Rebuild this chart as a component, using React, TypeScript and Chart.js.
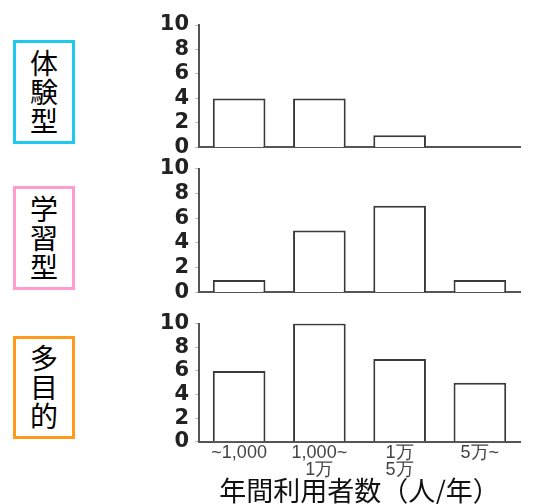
import React, { useEffect, useRef } from "react";
import { Chart, registerables } from "chart.js";

Chart.register(...registerables);

const categories: string[][] = [["~1,000"], ["1,000~", "1万"], ["1万", "5万"], ["5万~"]];
const taikenValues = [4, 4, 1, 0];
const gakushuValues = [1, 5, 7, 1];
const tamokutekiValues = [6, 10, 7, 5];
const yTicks = [0, 2, 4, 6, 8, 10];
const panelLabels = ["体験型", "学習型", "多目的"];
const panelColors = ["#1ec8f0", "#ff9ccf", "#ff9a1a"];
const xTitle = "年間利用者数（人/年）";

type PanelCfg = {
  values: number[];
  top: number;
  height: number;
  padTop: number;
  padBottom: number;
  showX: boolean;
};

const panels: PanelCfg[] = [
  { values: taikenValues, top: 0, height: 166, padTop: 25, padBottom: 7, showX: false },
  { values: gakushuValues, top: 150, height: 161, padTop: 17, padBottom: 7, showX: false },
  { values: tamokutekiValues, top: 305, height: 199, padTop: 16, padBottom: 0, showX: true },
];

const boxes = [
  { top: 40, height: 104 },
  { top: 186, height: 104 },
  { top: 336, height: 103 },
];

function makeChart(canvas: HTMLCanvasElement, p: PanelCfg) {
  return new Chart(canvas, {
    type: "bar",
    data: {
      labels: categories as any,
      datasets: [
        {
          data: p.values,
          backgroundColor: "#ffffff",
          borderColor: "#3a3a3a",
          borderWidth: 2,
          borderSkipped: "bottom",
          categoryPercentage: 0.8,
          barPercentage: 0.82,
        },
      ],
    },
    options: {
      animation: false,
      responsive: false,
      plugins: { legend: { display: false }, tooltip: { enabled: false } },
      layout: { padding: { top: p.padTop, right: 20, bottom: p.padBottom, left: 0 } },
      scales: {
        x: {
          grid: { display: false, drawTicks: false, tickLength: 0 },
          border: { display: true, color: "#555", width: 2 },
          ticks: {
            display: p.showX,
            color: "#444",
            font: { family: "Liberation Sans", size: 18, lineHeight: 0.95 },
            maxRotation: 0,
            autoSkip: false,
            padding: 3,
          },
          title: {
            display: p.showX,
            text: xTitle,
            color: "#111",
            font: { family: "Noto Sans CJK JP", size: 27, lineHeight: 1.0 },
            padding: { top: -5, bottom: 0 },
          },
        },
        y: {
          min: 0,
          max: 10,
          afterBuildTicks: (scale: any) => {
            scale.ticks = yTicks.map((v) => ({ value: v }));
          },
          grid: { drawOnChartArea: false, tickLength: 4, color: "#bbb" },
          border: { color: "#555", width: 2 },
          ticks: {
            autoSkip: false,
            color: "#222",
            font: { family: "DejaVu Sans", size: 21, weight: "bold" },
            padding: 6,
          },
          afterFit: (s: any) => {
            s.width = 59;
          },
        },
      },
    },
  } as any);
}

export default function App() {
  const r1 = useRef<HTMLCanvasElement>(null);
  const r2 = useRef<HTMLCanvasElement>(null);
  const r3 = useRef<HTMLCanvasElement>(null);

  useEffect(() => {
    const refs = [r1, r2, r3];
    const charts = panels.map((p, i) => makeChart(refs[i].current!, p));
    return () => charts.forEach((c) => c.destroy());
  }, []);

  const refs = [r1, r2, r3];

  return (
    <div style={{ position: "absolute", left: 0, top: 0, width: 545, height: 504, background: "#fff" }}>
      {panels.map((p, i) => (
        <canvas
          key={"c" + i}
          ref={refs[i]}
          width={400}
          height={p.height}
          style={{ position: "absolute", left: 140, top: p.top, width: 400, height: p.height }}
        />
      ))}
      {boxes.map((b, i) => (
        <div
          key={"b" + i}
          style={{
            position: "absolute",
            left: 13,
            top: b.top,
            width: 62,
            height: b.height,
            boxSizing: "border-box",
            border: `3px solid ${panelColors[i]}`,
            display: "flex",
            alignItems: "center",
            justifyContent: "center",
          }}
        >
          <div
            style={{
              writingMode: "vertical-rl",
              fontFamily: "'Noto Sans CJK JP'",
              fontSize: 28,
              lineHeight: 1,
              color: "#000",
              letterSpacing: 1,
            }}
          >
            {panelLabels[i]}
          </div>
        </div>
      ))}
    </div>
  );
}
